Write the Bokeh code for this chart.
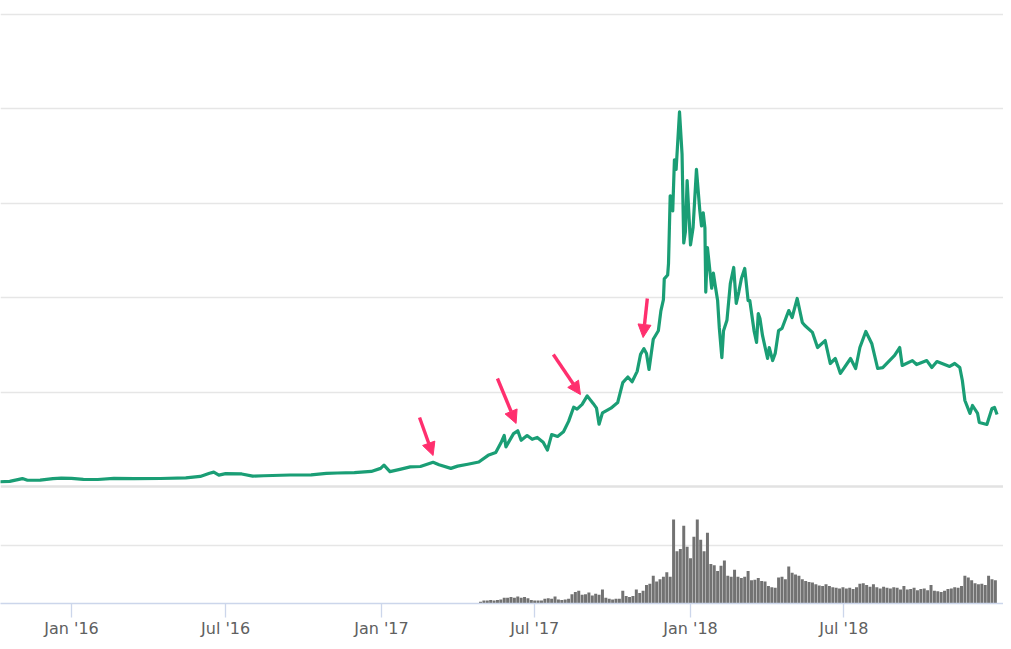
import pandas as pd
from bokeh.plotting import figure
from bokeh.models import (ColumnDataSource, Range1d, FixedTicker, Grid, Span,
                          Arrow, NormalHead)
from bokeh.embed import file_html
from bokeh.resources import INLINE

# ---------------- data ----------------
price_dates = [
    "2015-10-01", "2015-10-20", "2015-11-04", "2015-11-10", "2015-11-25", "2015-12-10",
    "2015-12-20", "2016-01-01", "2016-01-15", "2016-02-01", "2016-02-20", "2016-03-15",
    "2016-04-15", "2016-05-15", "2016-06-01", "2016-06-12", "2016-06-17", "2016-06-23",
    "2016-07-01", "2016-07-20", "2016-08-02", "2016-08-15", "2016-09-15", "2016-10-10",
    "2016-10-28", "2016-11-10", "2016-11-30", "2016-12-20", "2016-12-31", "2017-01-04",
    "2017-01-11", "2017-01-24", "2017-02-04", "2017-02-16", "2017-03-03", "2017-03-10",
    "2017-03-24", "2017-04-01", "2017-04-13", "2017-04-26", "2017-05-07", "2017-05-16",
    "2017-05-22", "2017-05-26", "2017-05-28", "2017-06-06", "2017-06-11", "2017-06-15",
    "2017-06-22", "2017-06-28", "2017-07-04", "2017-07-11", "2017-07-16", "2017-07-21",
    "2017-07-28", "2017-08-04", "2017-08-10", "2017-08-16", "2017-08-20", "2017-08-26",
    "2017-09-01", "2017-09-08", "2017-09-12", "2017-09-15", "2017-09-19", "2017-09-29",
    "2017-10-07", "2017-10-13", "2017-10-19", "2017-10-24", "2017-10-30", "2017-11-03",
    "2017-11-07", "2017-11-10", "2017-11-13", "2017-11-18", "2017-11-24", "2017-11-27",
    "2017-11-30", "2017-12-01", "2017-12-05", "2017-12-06", "2017-12-08", "2017-12-11",
    "2017-12-13", "2017-12-15", "2017-12-19", "2017-12-22", "2017-12-24", "2017-12-26",
    "2017-12-28", "2018-01-01", "2018-01-04", "2018-01-08", "2018-01-12", "2018-01-14",
    "2018-01-16", "2018-01-18", "2018-01-19", "2018-01-21", "2018-01-23", "2018-01-26",
    "2018-01-28", "2018-01-30", "2018-02-02", "2018-02-04", "2018-02-07", "2018-02-09",
    "2018-02-13", "2018-02-17", "2018-02-21", "2018-02-24", "2018-02-27", "2018-03-02",
    "2018-03-06", "2018-03-10", "2018-03-12", "2018-03-17", "2018-03-20", "2018-03-22",
    "2018-03-24", "2018-03-27", "2018-04-02", "2018-04-04", "2018-04-08", "2018-04-11",
    "2018-04-15", "2018-04-19", "2018-04-27", "2018-05-01", "2018-05-07", "2018-05-13",
    "2018-05-16", "2018-05-25", "2018-05-31", "2018-06-09", "2018-06-15", "2018-06-21",
    "2018-06-27", "2018-07-09", "2018-07-15", "2018-07-20", "2018-07-27", "2018-08-03",
    "2018-08-10", "2018-08-16", "2018-08-24", "2018-08-30", "2018-09-05", "2018-09-08",
    "2018-09-20", "2018-09-25", "2018-10-07", "2018-10-13", "2018-10-19", "2018-11-03",
    "2018-11-09", "2018-11-15", "2018-11-18", "2018-11-21", "2018-11-27", "2018-11-30",
    "2018-12-06", "2018-12-08", "2018-12-17", "2018-12-23", "2018-12-26", "2018-12-29",
]
price_values = [
    240, 270, 420, 330, 340, 420,
    440, 430, 380, 370, 430, 415,
    425, 455, 535, 700, 760, 600,
    680, 665, 550, 570, 610, 615,
    700, 715, 740, 800, 960, 1130,
    790, 920, 1040, 1060, 1280, 1150,
    960, 1080, 1180, 1300, 1650, 1800,
    2300, 2700, 2100, 2800, 2950, 2450,
    2700, 2500, 2600, 2350, 1930, 2750,
    2650, 2900, 3450, 4200, 4100, 4350,
    4800, 4400, 4150, 3300, 3900, 4150,
    4450, 5500, 5800, 5550, 6100, 7000,
    7300, 7050, 6200, 7800, 8250, 9300,
    9900, 11000, 11200, 11800, 15400, 14600,
    17300, 16800, 19850, 17600, 12900, 13500,
    16200, 12800, 13700, 16800, 14600, 13800,
    14500, 13700, 10300, 12650, 11800, 10500,
    11300, 10700, 9850, 8400, 6830, 8250,
    8800, 10750, 11600, 9700, 10300, 11000,
    11550, 9850, 9850, 8260, 7630, 9160,
    8900, 8000, 6780, 7360, 6670, 7050,
    8260, 8370, 9320, 8950, 9960, 8690,
    8530, 8160, 7360, 7730, 6515, 6780,
    5990, 6780, 6250, 7360, 8210, 7575,
    6250, 6300, 6670, 6940, 7360, 6410,
    6670, 6460, 6670, 6300, 6620, 6360,
    6515, 6300, 5615, 4555, 3870, 4290,
    3870, 3390, 3285, 4130, 4185, 3815,
]

volume_start = "2017-04-28"
volume_step = "4D"
volume_values = [
    0.3, 0.5, 0.5, 0.6, 0.5, 0.6, 0.7, 1.0, 1.0, 1.1,
    1.0, 1.2, 1.0, 1.1, 0.9, 0.6, 0.5, 0.5, 0.5, 0.8,
    0.9, 0.8, 1.2, 0.7, 0.6, 0.7, 0.8, 1.6, 2.0, 2.2,
    1.5, 1.6, 1.9, 1.4, 1.7, 1.5, 2.4, 1.0, 0.8, 0.7,
    0.8, 0.8, 2.2, 1.3, 1.1, 1.3, 2.4, 1.8, 2.2, 3.2,
    3.4, 4.8, 3.8, 4.2, 4.6, 5.4, 4.6, 14.5, 9.0, 9.4,
    13.4, 9.8, 7.8, 11.5, 14.5, 11.0, 9.0, 12.2, 6.8, 6.6,
    5.6, 6.5, 7.4, 4.8, 4.6, 5.8, 4.6, 4.4, 4.6, 5.6,
    4.0, 4.1, 4.4, 3.9, 3.8, 3.0, 2.8, 2.7, 4.5, 4.6,
    4.2, 6.4, 5.3, 5.0, 4.8, 4.2, 3.9, 3.7, 3.6, 3.3,
    3.1, 3.0, 3.3, 3.0, 2.8, 2.7, 2.6, 2.8, 2.6, 2.7,
    2.5, 2.8, 3.4, 3.5, 3.2, 2.9, 3.3, 2.8, 2.6, 2.9,
    2.7, 2.6, 2.8, 2.7, 2.4, 3.0, 2.4, 2.5, 2.7, 2.3,
    2.5, 2.6, 2.3, 3.2, 2.2, 2.1, 2.0, 2.2, 2.5, 2.6,
    2.8, 2.7, 3.0, 4.8, 4.5, 4.0, 3.5, 3.3, 3.4, 3.2,
    4.8, 4.2, 4.0,
]

tick_dates = ["2016-01-01", "2016-07-01", "2017-01-01", "2017-07-01", "2018-01-01", "2018-07-01"]
tick_labels = ["Jan '16", "Jul '16", "Jan '17", "Jul '17", "Jan '18", "Jul '18"]

price_grid = [5000, 10000, 15000, 20000, 25000]
volume_grid = [10]

arrow_tail_dates = ["2017-02-15", "2017-05-18", "2017-07-23", "2017-11-11"]
arrow_tail_prices = [3655, 5720, 6990, 9960]
arrow_tip_dates = ["2017-03-03", "2017-06-09", "2017-08-24", "2017-11-06"]
arrow_tip_prices = [1640, 3340, 4870, 7890]

# ---------------- styles ----------------
LINE = "#1a9e75"
BAR = "#727272"
ARROW = "#ff2f6e"
GRID = "#e6e6e6"
AXIS = "#ccd6eb"

def ms(s):
    return pd.Timestamp(s).value / 1e6

p = figure(width=1003, height=641, x_axis_type="datetime",
           y_axis_location=None, output_backend="svg", toolbar_location=None,
           min_border_left=0, min_border_right=0, min_border_top=0,
           min_border_bottom=38,
           x_range=Range1d(ms("2015-10-09 03:36"), ms("2019-01-05 14:24")),
           y_range=Range1d(-6197, 25742))
p.extra_y_ranges = {"vol": Range1d(0, 103.97)}
p.outline_line_color = None
p.background_fill_color = "white"
p.border_fill_color = "white"

p.xgrid.visible = False
p.ygrid.ticker = FixedTicker(ticks=price_grid)
p.ygrid.grid_line_color = GRID
p.ygrid.grid_line_width = 1.3

vgrid = Grid(dimension=1, ticker=FixedTicker(ticks=volume_grid), y_range_name="vol",
             grid_line_color=GRID, grid_line_width=1.3)
p.add_layout(vgrid)
p.add_layout(Span(location=0, dimension="width", line_color="#e2e2e2", line_width=2.6))

vol_dates = pd.date_range(volume_start, periods=len(volume_values), freq=volume_step)
vsrc = ColumnDataSource(dict(x=vol_dates, top=volume_values))
p.vbar(x="x", top="top", bottom=0, width=4 * 86400000 * 0.88, source=vsrc,
       y_range_name="vol", fill_color=BAR, line_color=None)

psrc = ColumnDataSource(dict(x=pd.to_datetime(price_dates), y=price_values))
p.line("x", "y", source=psrc, line_color=LINE, line_width=3.2, line_join="round")

asrc = ColumnDataSource(dict(x0=pd.to_datetime(arrow_tail_dates), y0=arrow_tail_prices,
                             x1=pd.to_datetime(arrow_tip_dates), y1=arrow_tip_prices))
p.add_layout(Arrow(source=asrc, x_start="x0", y_start="y0", x_end="x1", y_end="y1",
                   line_color=ARROW, line_width=3.4,
                   end=NormalHead(size=13, fill_color=ARROW, line_color=ARROW)))

ax = p.xaxis[0]
ax.ticker = FixedTicker(ticks=[ms(d) for d in tick_dates])
ax.major_label_overrides = {ms(d): lab for d, lab in zip(tick_dates, tick_labels)}
ax.axis_line_color = AXIS
ax.axis_line_width = 1.3
ax.major_tick_line_color = AXIS
ax.major_tick_line_width = 1.3
ax.major_tick_out = 14
ax.major_tick_in = 0
ax.minor_tick_line_color = None
ax.major_label_standoff = 1
ax.major_label_text_font = "DejaVu Sans"
ax.major_label_text_font_size = "16px"
ax.major_label_text_color = "#606060"

open("out.html", "w").write(file_html(p, INLINE))
